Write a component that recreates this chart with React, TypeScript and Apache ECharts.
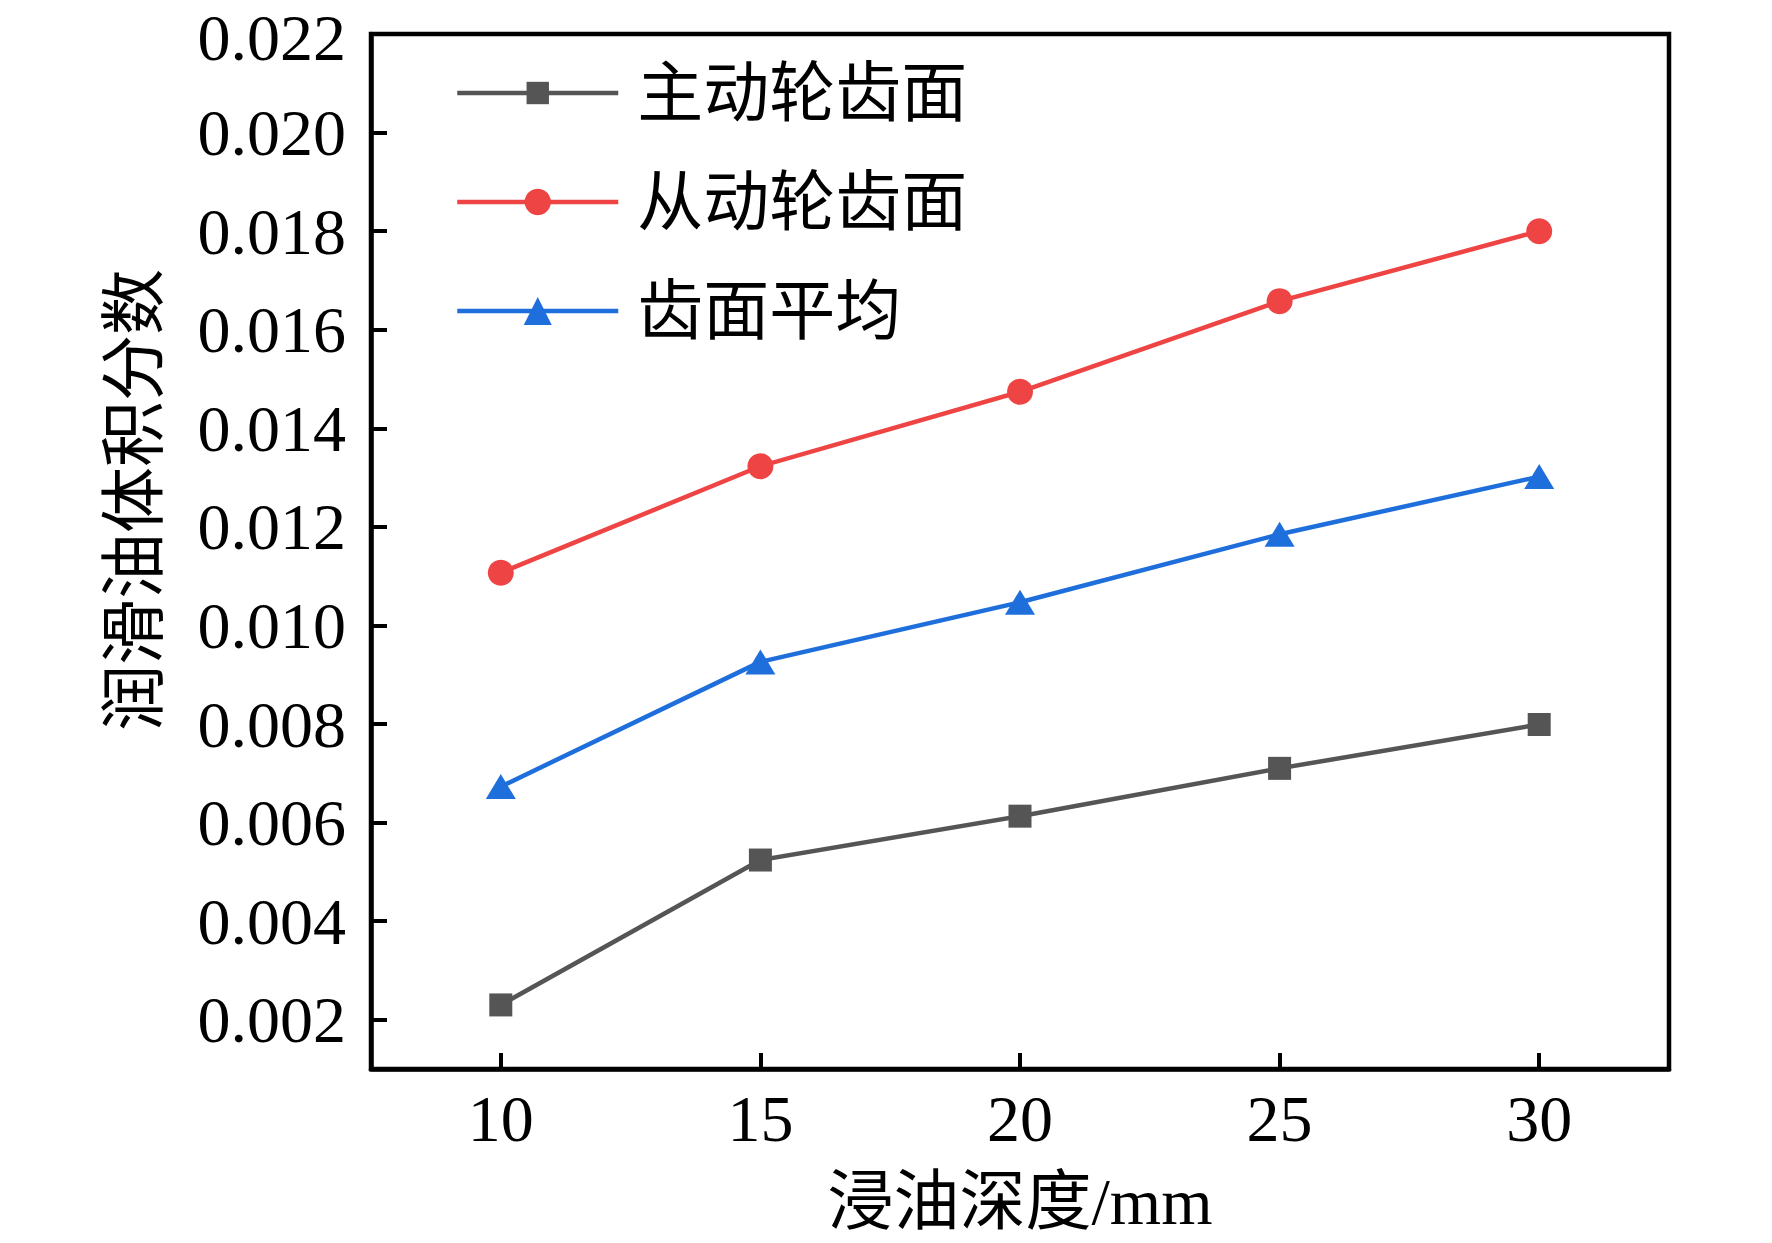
import React, { useEffect, useRef } from "react";
import * as echarts from "echarts";

const depths = ["10", "15", "20", "25", "30"];
const drivingFace = [0.0023, 0.00524, 0.00613, 0.0071, 0.00799];
const drivenFace = [0.01107, 0.01323, 0.01474, 0.01658, 0.018];
const faceAverage = [0.00673, 0.00926, 0.01047, 0.01185, 0.01302];
const yTicks = [0.002, 0.004, 0.006, 0.008, 0.01, 0.012, 0.014, 0.016, 0.018, 0.02, 0.022];
const seriesNames = ["主动轮齿面", "从动轮齿面", "齿面平均"];

const FONT = "'Liberation Serif', 'Times New Roman', 'Noto Sans CJK SC', serif";

export default function App() {
  const ref = useRef<HTMLDivElement>(null);
  useEffect(() => {
    if (!ref.current) return;
    const chart = echarts.init(ref.current, undefined, { renderer: "svg" });
    const legendBase = {
      left: 455,
      itemWidth: 161,
      padding: 0,
      orient: "horizontal",
      lineStyle: { width: 4.5 },
      textStyle: {
        fontFamily: FONT,
        fontSize: 66,
        color: "#000",
        padding: [0, 0, 0, 14],
      },
    };
    const yMax = yTicks[yTicks.length - 1];
    chart.setOption({
      animation: false,
      backgroundColor: "#fff",
      grid: {
        left: 371,
        right: 103,
        top: 34,
        bottom: 174,
        show: true,
        borderColor: "#000",
        borderWidth: 4.5,
        containLabel: false,
        outerBoundsMode: "none",
      },
      legend: [
        { ...legendBase, top: 60, itemHeight: 28, data: [seriesNames[0]] },
        { ...legendBase, top: 169, itemHeight: 33, data: [seriesNames[1]] },
        { ...legendBase, top: 278, itemHeight: 35, data: [seriesNames[2]] },
      ],
      xAxis: {
        type: "category",
        data: depths,
        boundaryGap: true,
        name: "浸油深度/mm",
        nameLocation: "middle",
        nameGap: 99,
        nameTextStyle: { fontFamily: FONT, fontSize: 66, color: "#000" },
        axisLine: { show: true, lineStyle: { color: "#000", width: 4.5 } },
        axisTick: {
          show: true,
          inside: true,
          alignWithLabel: true,
          length: 16,
          lineStyle: { color: "#000", width: 4 },
        },
        axisLabel: {
          fontFamily: FONT,
          fontSize: 66,
          color: "#000",
          margin: 16,
        },
        splitLine: { show: false },
      },
      yAxis: {
        type: "value",
        min: 0.001,
        max: yMax,
        axisLine: { show: true, lineStyle: { color: "#000", width: 4.5 } },
        axisTick: {
          show: true,
          inside: true,
          length: 16,
          customValues: yTicks,
          lineStyle: { color: "#000", width: 4 },
        },
        axisLabel: {
          fontFamily: FONT,
          fontSize: 66,
          lineHeight: 56,
          color: "#000",
          margin: 25,
          customValues: yTicks,
          formatter: (v: number) =>
            Math.abs(v - yMax) < 1e-9 ? "{top|" + v.toFixed(3) + "}" : v.toFixed(3),
          rich: {
            top: {
              fontFamily: FONT,
              fontSize: 66,
              lineHeight: 56,
              color: "#000",
              padding: [6, 0, 0, 0],
            },
          },
        },
        splitLine: { show: false },
      },
      graphic: [
        {
          type: "text",
          x: 134,
          y: 500,
          rotation: Math.PI / 2,
          style: {
            text: "润滑油体积分数",
            fontFamily: FONT,
            fontSize: 66,
            fill: "#000",
            textAlign: "center",
            textVerticalAlign: "middle",
          },
        },
      ],
      series: [
        {
          name: seriesNames[0],
          type: "line",
          data: drivingFace,
          symbol: "rect",
          symbolSize: 23,
          lineStyle: { color: "#555555", width: 4.5 },
          itemStyle: { color: "#555555" },
        },
        {
          name: seriesNames[1],
          type: "line",
          data: drivenFace,
          symbol: "circle",
          symbolSize: 26,
          lineStyle: { color: "#EF4444", width: 4.5 },
          itemStyle: { color: "#EF4444" },
        },
        {
          name: seriesNames[2],
          type: "line",
          data: faceAverage,
          symbol: "triangle",
          symbolSize: [30, 25],
          lineStyle: { color: "#1E6FDC", width: 4.5 },
          itemStyle: { color: "#1E6FDC" },
        },
      ],
    });
    return () => chart.dispose();
  }, []);
  return (
    <div
      ref={ref}
      style={{ position: "absolute", left: 0, top: 0, width: 1772, height: 1243, background: "#fff" }}
    />
  );
}
